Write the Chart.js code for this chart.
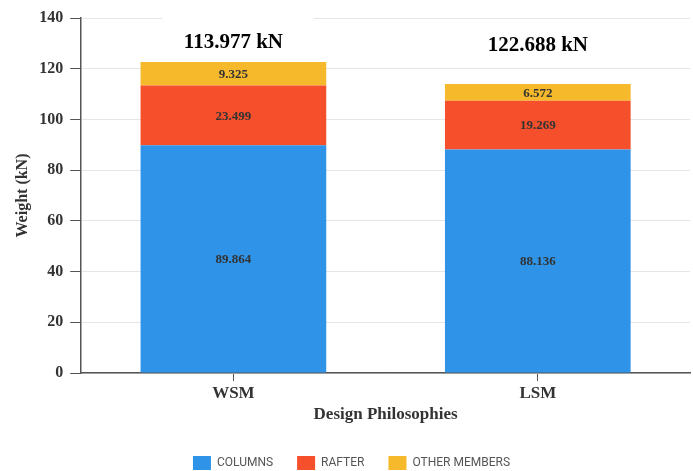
<!DOCTYPE html>
<html>
<head>
<meta charset="utf-8">
<script src="https://cdn.jsdelivr.net/npm/chart.js@4.4.0/dist/chart.umd.min.js"></script>
<style>
  html, body { margin: 0; padding: 0; background: #fff; }
  #wrap { width: 693px; height: 471px; }
</style>
</head>
<body>
<div id="wrap"><canvas id="myChart"></canvas></div>
<script>
'use strict';

const categories = ['WSM', 'LSM'];
const columns = [89.864, 88.136];
const rafter = [23.499, 19.269];
const otherMembers = [9.325, 6.572];
const totalLabels = ['113.977 kN', '122.688 kN'];
const yTicks = [0, 20, 40, 60, 80, 100, 120, 140];

const serif = '"Liberation Serif", "Times New Roman", serif';

// value labels inside each segment
const segmentLabels = {
  id: 'segmentLabels',
  afterDatasetsDraw(chart) {
    const ctx = chart.ctx;
    ctx.save();
    ctx.font = 'bold 13px ' + serif;
    ctx.fillStyle = '#333';
    ctx.textAlign = 'center';
    ctx.textBaseline = 'middle';
    chart.data.datasets.forEach(function (ds, i) {
      chart.getDatasetMeta(i).data.forEach(function (bar, j) {
        const mid = (bar.y + bar.base) / 2;
        ctx.fillText(ds.data[j].toFixed(3), bar.x, mid + 1);
      });
    });
    ctx.restore();
  }
};

// total labels above the stacks
const totals = {
  id: 'totals',
  afterDatasetsDraw(chart) {
    const ctx = chart.ctx;
    const x = chart.scales.x;
    const y = chart.scales.y;
    ctx.save();
    ctx.font = 'bold 21px ' + serif;
    ctx.textAlign = 'center';
    ctx.textBaseline = 'middle';
    for (let i = 0; i < totalLabels.length; i++) {
      const px = x.getPixelForValue(i);
      const py = y.getPixelForValue(i === 0 ? 130.4 : 129.2);
      if (i === 0) {
        ctx.fillStyle = '#fff';
        ctx.fillRect(px - 71, py - 26, 151, 20);
      }
      ctx.fillStyle = '#000';
      ctx.fillText(totalLabels[i], px, py);
    }
    ctx.restore();
  }
};

// push the legend lower, keep wide item spacing
const legendFit = {
  id: 'legendFit',
  beforeInit(chart) {
    const fit = chart.legend.fit;
    chart.legend.fit = function () {
      fit.bind(chart.legend)();
      this.height = 39;
    };
  }
};

const ctx = document.getElementById('myChart').getContext('2d');
const myChart = new Chart(ctx, {
  type: 'bar',
  data: {
    labels: categories,
    datasets: [{
      label: 'COLUMNS',
      data: columns,
      backgroundColor: '#2F93E8',
      barPercentage: 0.61,
      categoryPercentage: 1
    }, {
      label: 'RAFTER',
      data: rafter,
      backgroundColor: '#F54F2C',
      barPercentage: 0.61,
      categoryPercentage: 1
    }, {
      label: 'OTHER MEMBERS',
      data: otherMembers,
      backgroundColor: '#F6B92C',
      barPercentage: 0.61,
      categoryPercentage: 1
    }]
  },
  options: {
    responsive: true,
    maintainAspectRatio: false,
    animation: false,
    layout: { padding: { top: 18, right: 3, left: 13, bottom: 0 } },
    plugins: {
      legend: {
        position: 'bottom',
        labels: {
          boxWidth: 18,
          boxHeight: 14,
          padding: 24,
          color: '#555',
          font: { family: 'Roboto, sans-serif', size: 12 }
        }
      },
      tooltip: { enabled: false }
    },
    scales: {
      x: {
        stacked: true,
        border: { color: '#555', width: 1.5 },
        grid: { offset: false, drawOnChartArea: false, drawTicks: true, tickLength: 8, color: '#555' },
        ticks: { color: '#333', font: { family: serif, size: 17, weight: 'bold', lineHeight: 1 }, padding: 4 },
        title: {
          display: true,
          text: 'Design Philosophies',
          color: '#333',
          font: { family: serif, size: 17, weight: 'bold', lineHeight: 1 },
          padding: { top: 0, bottom: 9 }
        }
      },
      y: {
        stacked: true,
        min: 0,
        max: 140,
        border: { color: '#555', width: 1.5 },
        grid: { color: '#e6e6e6', tickColor: '#555', tickLength: 11 },
        afterBuildTicks(axis) { axis.ticks = yTicks.map(function (v) { return { value: v }; }); },
        ticks: { color: '#333', font: { family: serif, size: 16, weight: 'bold' }, padding: 7 },
        title: {
          display: true,
          text: 'Weight (kN)',
          color: '#333',
          font: { family: serif, size: 16, weight: 'bold' },
          padding: { top: 0, bottom: 0 }
        }
      }
    }
  },
  plugins: [segmentLabels, totals, legendFit]
});
</script>
</body>
</html>
